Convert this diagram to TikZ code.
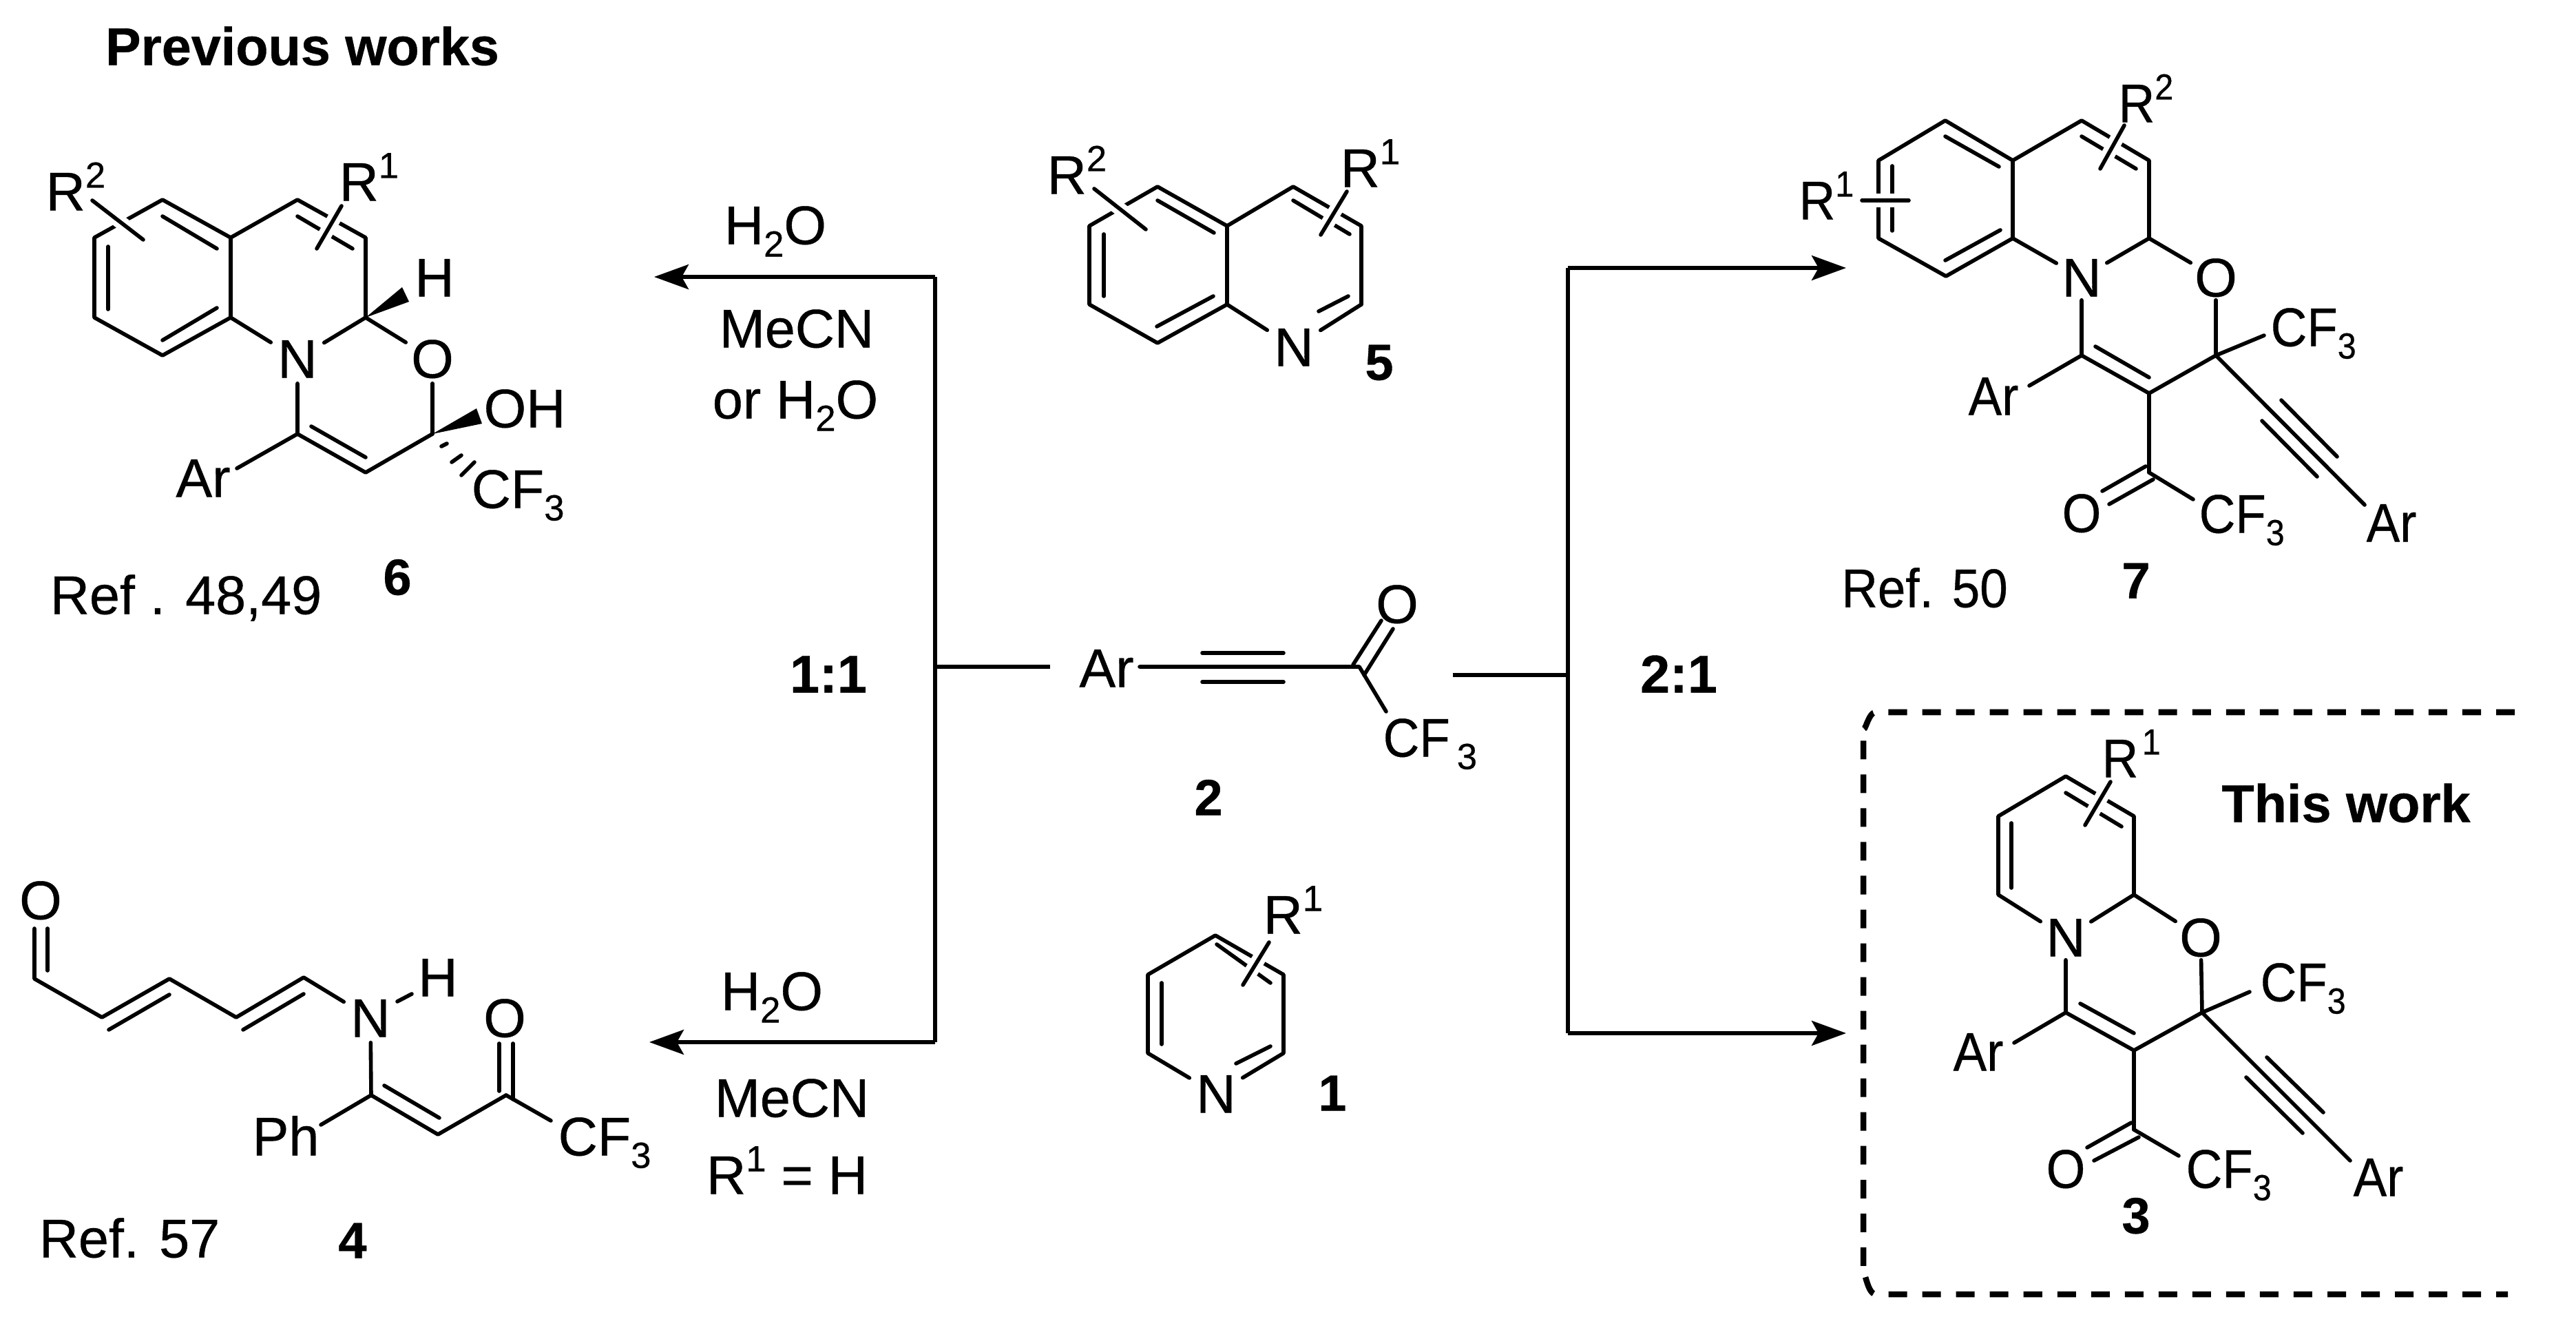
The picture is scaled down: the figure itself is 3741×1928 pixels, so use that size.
\documentclass[tikz,border=0pt]{standalone}
\usepackage{fontspec}
\usepackage{graphicx}
\setmainfont{Liberation Sans}[RawFeature={embolden=0.5}]
\usetikzlibrary{arrows.meta}
\newcommand{\dn}[1]{\raisebox{-0.18cm}{\fontsize{15}{15}\selectfont #1}}
\newcommand{\up}[1]{\raisebox{0.33cm}{\fontsize{15}{15}\selectfont #1}}
\newcommand{\nar}[1]{\scalebox{0.92}[1]{#1}}
\tikzset{
  txt/.style={inner sep=0pt,text height=0.55cm,text depth=0pt,font=\fontsize{22.5}{24}\selectfont},
  lab/.style={txt,anchor=west},
  num/.style={txt,font=\fontsize{21}{24}\selectfont\bfseries},
  atom/.style={txt,rectangle,minimum width=0.76cm,minimum height=0.70cm},
  bond/.style={line width=0.056cm,line cap=round,line join=round},
  halo/.style={bond,preaction={draw,white,line width=0.2cm,line cap=butt}},
  conn/.style={line width=0.052cm,line join=miter},
  arrowed/.style={conn,-{Stealth[length=0.5cm,width=0.36cm,inset=0.1cm]}},
  boxline/.style={line width=0.085cm,dash pattern=on 0.27cm off 0.22cm}
}
\begin{document}
\begin{tikzpicture}[x=0.01cm,y=-0.01cm]
\useasboundingbox (0,0) rectangle (3741,1928);
\fill[white] (0,0) rectangle (3741,1928);

% ---- Headings and reaction labels
\node[txt,font=\fontsize{22}{24}\selectfont\bfseries] (hprev) at (439,67) {Previous works};
\node[txt,font=\fontsize{22}{24}\selectfont\bfseries] (hthis) at (3407,1166) {This work};
\node[txt] (aH) at (1126,327) {H\dn{2}O};
\node[txt] (aM) at (1157,477) {MeCN};
\node[txt] (aO) at (1155,580) {or H\dn{2}O};
\node[txt] (bH) at (1121,1439) {H\dn{2}O};
\node[txt] (bM) at (1150,1594) {MeCN};
\node[txt] (bR) at (1143,1706) {R\up{1} = H};
\node[num,font=\fontsize{22}{24}\selectfont\bfseries] (r11) at (1203,978) {1:1};
\node[num,font=\fontsize{22}{24}\selectfont\bfseries] (r21) at (2438,978) {2:1};

% ---- Connectors
\coordinate (lt) at (1358,402); \coordinate (lm) at (1358,968); \coordinate (lb) at (1358,1513);
\coordinate (lte) at (950,402); \coordinate (lbe) at (943,1513); \coordinate (lme) at (1525,968);
\coordinate (rt) at (2277,389); \coordinate (rm) at (2277,980); \coordinate (rb) at (2277,1500);
\coordinate (rte) at (2681,389); \coordinate (rbe) at (2681,1500); \coordinate (rme) at (2110,980);
\draw[conn] (lt) -- (lb);
\draw[arrowed] (lt) -- (lte);
\draw[arrowed] (lb) -- (lbe);
\draw[conn] (lm) -- (lme);
\draw[conn] (rt) -- (rb);
\draw[arrowed] (rt) -- (rte);
\draw[arrowed] (rb) -- (rbe);
\draw[conn] (rm) -- (rme);

% ---- Dashed box
\coordinate (ba) at (3652,1034); \coordinate (bb) at (2724,1034); \coordinate (bc) at (2706,1056);
\coordinate (bd) at (2706,1852); \coordinate (be) at (2724,1879); \coordinate (bf) at (3642,1879);
\draw[boxline] (ba) -- (bb) to[out=180,in=-80] (bc) -- (bd) to[out=80,in=180] (be) -- (bf);

% ---- Compound 6
\coordinate (f1) at (236,290); \coordinate (f2) at (335,345); \coordinate (f3) at (335,461);
\coordinate (f4) at (236,516); \coordinate (f5) at (137,461); \coordinate (f6) at (137,345);
\coordinate (f7) at (432,290); \coordinate (f8) at (531,345); \coordinate (f9) at (531,461);
\coordinate (f10) at (432,630); \coordinate (f11) at (531,686); \coordinate (f12) at (628,630);
\node[atom] (fN) at (432,521) {N};
\node[atom] (fO) at (628,521) {O};
\node[txt] (fH) at (631,403) {H};
\node[txt] (fOH) at (762,593) {OH};
\node[txt] (fAr) at (295,694) {Ar};
\node[lab] (fCF) at (684,710) {CF\dn{3}};
\node[lab] (fR2) at (66,278) {R\up{2}};
\node[lab] (fR1) at (492,264) {R\up{1}};
\node[txt] (fRef) at (270,864) {Ref . 48,49};
\node[num] (fnum) at (577,836) {6};
\draw[bond] (f6) -- (f1) -- (f2) -- (f3) -- (f4) -- (f5) -- cycle;
\draw[bond] (f2) -- (f7) -- (f8) -- (f9);
\draw[bond] (f3) -- (fN); \draw[bond] (f9) -- (fN); \draw[bond] (f9) -- (fO);
\draw[bond] (fN) -- (f10) -- (f11) -- (f12); \draw[bond] (fO) -- (f12);
\coordinate (fi1) at (236,314); \coordinate (fi2) at (315,361);
\coordinate (fi3) at (157,358); \coordinate (fi4) at (157,449);
\coordinate (fi5) at (236,494); \coordinate (fi6) at (315,447);
\coordinate (fi7) at (432,314); \coordinate (fi8) at (512,361);
\coordinate (fi9) at (452,619); \coordinate (fi10) at (531,664);
\draw[bond] (fi1) -- (fi2); \draw[bond] (fi3) -- (fi4); \draw[bond] (fi5) -- (fi6);
\draw[bond] (fi7) -- (fi8); \draw[bond] (fi9) -- (fi10);
\coordinate (fae) at (344,680); \draw[bond] (f10) -- (fae);
\coordinate (fw1) at (584,417); \coordinate (fw2) at (594,438);
\fill (f9) -- (fw1) -- (fw2) -- cycle;
\coordinate (fw3) at (692,593); \coordinate (fw4) at (700,615);
\fill (f12) -- (fw3) -- (fw4) -- cycle;
\coordinate (fh1) at (641,648); \coordinate (fh2) at (649,644);
\coordinate (fh3) at (656,671); \coordinate (fh4) at (670,661);
\coordinate (fh5) at (670,690); \coordinate (fh6) at (689,671);
\draw[bond] (fh1) -- (fh2); \draw[bond] (fh3) -- (fh4); \draw[bond] (fh5) -- (fh6);
\coordinate (fs1) at (134,291); \coordinate (fs2) at (208,348);
\coordinate (fs3) at (496,299); \coordinate (fs4) at (460,361);
\draw[halo] (fs1) -- (fs2); \draw[halo] (fs3) -- (fs4);

% ---- Compound 7
\coordinate (s1) at (2825,175); \coordinate (s2) at (2923,233); \coordinate (s3) at (2923,346);
\coordinate (s4) at (2826,401); \coordinate (s5) at (2728,346); \coordinate (s6) at (2728,233);
\coordinate (s7) at (3023,175); \coordinate (s8) at (3121,233); \coordinate (s9) at (3121,346);
\coordinate (s10) at (3023,516); \coordinate (s11) at (3121,571); \coordinate (s12) at (3218,516);
\coordinate (s13) at (3121,686);
\node[atom,minimum width=0.72cm,minimum height=0.64cm] (sN) at (3023,403) {N};
\node[atom,minimum width=0.72cm,minimum height=0.64cm] (sO) at (3218,403) {O};
\node[txt] (sAr) at (2895,575) {\nar{Ar}};
\node[txt] (sAr2) at (3473,759) {\nar{Ar}};
\node[txt] (sO2) at (3023,745) {\nar{O}};
\node[lab] (sCF) at (3297,475) {\nar{CF\dn{3}}};
\node[lab] (sCF2) at (3193,746) {\nar{CF\dn{3}}};
\node[lab] (sR1) at (2612,291) {\nar{R\up{1}}};
\node[lab] (sR2) at (3076,150) {\nar{R\up{2}}};
\node[txt] (sRef) at (2795,854) {\nar{Ref. 50}};
\node[num] (snum) at (3102,841) {7};
\draw[bond] (s6) -- (s1) -- (s2) -- (s3) -- (s4) -- (s5) -- cycle;
\draw[bond] (s2) -- (s7) -- (s8) -- (s9);
\draw[bond] (s3) -- (sN); \draw[bond] (s9) -- (sN); \draw[bond] (s9) -- (sO);
\draw[bond] (sN) -- (s10) -- (s11) -- (s12); \draw[bond] (sO) -- (s12);
\draw[bond] (s11) -- (s13);
\coordinate (si1) at (2825,198); \coordinate (si2) at (2903,242);
\coordinate (si3) at (2748,241); \coordinate (si4) at (2748,335);
\coordinate (si5) at (2825,378); \coordinate (si6) at (2905,334);
\coordinate (si7) at (3023,198); \coordinate (si8) at (3102,245);
\coordinate (si9) at (3043,503); \coordinate (si10) at (3121,548);
\draw[bond] (si1) -- (si2); \draw[bond] (si3) -- (si4); \draw[bond] (si5) -- (si6);
\draw[bond] (si7) -- (si8); \draw[bond] (si9) -- (si10);
\coordinate (sae) at (2947,560); \draw[bond] (s10) -- (sae);
\coordinate (sce) at (3288,487); \draw[bond] (s12) -- (sce);
\coordinate (sye) at (3434,733); \draw[bond] (s12) -- (sye);
\coordinate (sy1) at (3313,581); \coordinate (sy2) at (3394,663);
\coordinate (sy3) at (3285,611); \coordinate (sy4) at (3365,692);
\draw[bond] (sy1) -- (sy2); \draw[bond] (sy3) -- (sy4);
\coordinate (so1) at (3116,677); \coordinate (so2) at (3053,713);
\coordinate (so3) at (3127,696); \coordinate (so4) at (3063,732);
\draw[bond] (so1) -- (so2); \draw[bond] (so3) -- (so4);
\coordinate (sfe) at (3185,725); \draw[bond] (s13) -- (sfe);
\coordinate (ss1) at (2704,291); \coordinate (ss2) at (2772,291);
\coordinate (ss3) at (3085,182); \coordinate (ss4) at (3050,245);
\draw[halo] (ss1) -- (ss2); \draw[halo] (ss3) -- (ss4);

% ---- Compound 3
\coordinate (t1) at (3000,1127); \coordinate (t2) at (3099,1185); \coordinate (t3) at (3099,1299);
\coordinate (t4) at (2902,1299); \coordinate (t5) at (2902,1185);
\coordinate (t6) at (3000,1470); \coordinate (t7) at (3099,1525); \coordinate (t8) at (3198,1470);
\coordinate (t9) at (3099,1640);
\node[atom,minimum width=0.72cm,minimum height=0.64cm] (tN) at (3000,1361) {N};
\node[atom,minimum width=0.72cm,minimum height=0.64cm] (tO) at (3196,1361) {O};
\node[txt] (tAr) at (2873,1527) {\nar{Ar}};
\node[txt] (tAr2) at (3454,1709) {\nar{Ar}};
\node[txt] (tO2) at (3000,1697) {\nar{O}};
\node[lab] (tCF) at (3282,1426) {\nar{CF\dn{3}}};
\node[lab] (tCF2) at (3174,1697) {\nar{CF\dn{3}}};
\node[lab] (tR) at (3052,1101) {\nar{R\hspace{0.06cm}\up{1}}};
\node[num] (tnum) at (3102,1763) {3};
\draw[bond] (tN) -- (t4) -- (t5) -- (t1) -- (t2) -- (t3);
\draw[bond] (t3) -- (tN); \draw[bond] (t3) -- (tO);
\draw[bond] (tN) -- (t6) -- (t7) -- (t8); \draw[bond] (tO) -- (t8);
\draw[bond] (t7) -- (t9);
\coordinate (ti1) at (2921,1195); \coordinate (ti2) at (2921,1289);
\coordinate (ti3) at (3000,1151); \coordinate (ti4) at (3081,1200);
\coordinate (ti5) at (3021,1457); \coordinate (ti6) at (3099,1500);
\draw[bond] (ti1) -- (ti2); \draw[bond] (ti3) -- (ti4); \draw[bond] (ti5) -- (ti6);
\coordinate (tae) at (2925,1514); \draw[bond] (t6) -- (tae);
\coordinate (tce) at (3267,1440); \draw[bond] (t8) -- (tce);
\coordinate (tye) at (3413,1685); \draw[bond] (t8) -- (tye);
\coordinate (ty1) at (3292,1535); \coordinate (ty2) at (3374,1615);
\coordinate (ty3) at (3262,1564); \coordinate (ty4) at (3344,1645);
\draw[bond] (ty1) -- (ty2); \draw[bond] (ty3) -- (ty4);
\coordinate (to1) at (3095,1630); \coordinate (to2) at (3031,1666);
\coordinate (to3) at (3106,1651); \coordinate (to4) at (3041,1685);
\draw[bond] (to1) -- (to2); \draw[bond] (to3) -- (to4);
\coordinate (tfe) at (3164,1678); \draw[bond] (t9) -- (tfe);
\coordinate (ts1) at (3065,1135); \coordinate (ts2) at (3028,1198);
\draw[halo] (ts1) -- (ts2);

% ---- Compound 5
\coordinate (q1) at (1681,271); \coordinate (q2) at (1782,328); \coordinate (q3) at (1782,442);
\coordinate (q4) at (1681,498); \coordinate (q5) at (1582,442); \coordinate (q6) at (1582,328);
\coordinate (q7) at (1878,271); \coordinate (q8) at (1977,328); \coordinate (q9) at (1977,442);
\node[atom,minimum height=0.6cm] (qN) at (1879,504) {N};
\node[lab] (qR2) at (1520,254) {R\up{2}};
\node[lab] (qR1) at (1946,244) {R\up{1}};
\node[num] (qnum) at (2003,524) {5};
\draw[bond] (q6) -- (q1) -- (q2) -- (q3) -- (q4) -- (q5) -- cycle;
\draw[bond] (q2) -- (q7) -- (q8) -- (q9);
\draw[bond] (q3) -- (qN); \draw[bond] (q9) -- (qN);
\coordinate (qi1) at (1681,291); \coordinate (qi2) at (1763,338);
\coordinate (qi3) at (1603,340); \coordinate (qi4) at (1603,430);
\coordinate (qi5) at (1680,474); \coordinate (qi6) at (1762,430);
\coordinate (qi7) at (1878,291); \coordinate (qi8) at (1960,340);
\coordinate (qi9) at (1915,452); \coordinate (qi10) at (1958,430);
\draw[bond] (qi1) -- (qi2); \draw[bond] (qi3) -- (qi4); \draw[bond] (qi5) -- (qi6);
\draw[bond] (qi7) -- (qi8); \draw[bond] (qi9) -- (qi10);
\coordinate (qs1) at (1589,274); \coordinate (qs2) at (1664,333);
\coordinate (qs3) at (1956,278); \coordinate (qs4) at (1918,341);
\draw[halo] (qs1) -- (qs2); \draw[halo] (qs3) -- (qs4);

% ---- Compound 1
\coordinate (p1) at (1765,1358); \coordinate (p2) at (1864,1415); \coordinate (p3) at (1864,1529);
\coordinate (p4) at (1667,1529); \coordinate (p5) at (1667,1415);
\node[atom,minimum height=0.6cm] (pN) at (1766,1588) {N};
\node[lab] (pR) at (1834,1328) {R\up{1}};
\node[num] (pnum) at (1935,1585) {1};
\draw[bond] (pN) -- (p4) -- (p5) -- (p1) -- (p2) -- (p3) -- (pN);
\coordinate (pi1) at (1687,1427); \coordinate (pi2) at (1687,1516);
\coordinate (pi3) at (1767,1371); \coordinate (pi4) at (1845,1427);
\coordinate (pi5) at (1795,1544); \coordinate (pi6) at (1845,1519);
\draw[bond] (pi1) -- (pi2); \draw[bond] (pi3) -- (pi4); \draw[bond] (pi5) -- (pi6);
\coordinate (ps1) at (1843,1368); \coordinate (ps2) at (1805,1430);
\draw[halo] (ps1) -- (ps2);

% ---- Compound 2
\coordinate (y1) at (1655,968); \coordinate (y2) at (1974,968); \coordinate (y3) at (2013,1033);
\node[txt] (yAr) at (1607,970) {Ar};
\node[txt] (yO) at (2029,877) {O};
\node[lab] (yCF) at (2008,1071) {\nar{CF}\hspace{0.1cm}\dn{3}};
\node[num] (ynum) at (1755,1156) {2};
\draw[bond] (y1) -- (y2) -- (y3);
\coordinate (yi1) at (1746,948); \coordinate (yi2) at (1864,948);
\coordinate (yi3) at (1746,990); \coordinate (yi4) at (1864,990);
\coordinate (yo1) at (1965,965); \coordinate (yo2) at (2006,901);
\coordinate (yo3) at (1981,980); \coordinate (yo4) at (2023,913);
\draw[bond] (yi1) -- (yi2); \draw[bond] (yi3) -- (yi4);
\draw[bond] (yo1) -- (yo2); \draw[bond] (yo3) -- (yo4);

% ---- Compound 4
\coordinate (d1) at (50,1421); \coordinate (d2) at (148,1477); \coordinate (d3) at (246,1421);
\coordinate (d4) at (343,1477); \coordinate (d5) at (441,1419);
\coordinate (d6) at (539,1590); \coordinate (d7) at (636,1647); \coordinate (d8) at (735,1590);
\node[txt] (dO) at (59,1307) {O};
\node[atom] (dN) at (538,1478) {N};
\node[txt] (dH) at (636,1419) {H};
\node[txt] (dO2) at (733,1478) {O};
\node[txt] (dPh) at (415,1650) {Ph};
\node[lab] (dCF) at (810,1650) {CF\dn{3}};
\node[txt] (dRef) at (188,1798) {Ref. 57};
\node[num] (dnum) at (512,1799) {4};
\coordinate (do1) at (50,1348);
\draw[bond] (do1) -- (d1) -- (d2) -- (d3) -- (d4) -- (d5) -- (dN) -- (d6) -- (d7) -- (d8);
\coordinate (do2) at (69,1348); \coordinate (do3) at (69,1409);
\coordinate (di1) at (158,1495); \coordinate (di2) at (246,1444);
\coordinate (di3) at (353,1495); \coordinate (di4) at (441,1443);
\coordinate (di5) at (558,1576); \coordinate (di6) at (638,1623);
\coordinate (dh1) at (577,1454); \coordinate (dh2) at (598,1443);
\coordinate (dc1) at (725,1515); \coordinate (dc2) at (725,1584);
\coordinate (dc3) at (745,1515); \coordinate (dc4) at (745,1596);
\coordinate (dfe) at (800,1627); \coordinate (dpe) at (466,1633);
\draw[bond] (do2) -- (do3); \draw[bond] (di1) -- (di2); \draw[bond] (di3) -- (di4);
\draw[bond] (di5) -- (di6); \draw[bond] (dh1) -- (dh2);
\draw[bond] (dc1) -- (dc2); \draw[bond] (dc3) -- (dc4);
\draw[bond] (d8) -- (dfe); \draw[bond] (d6) -- (dpe);
\end{tikzpicture}
\end{document}
